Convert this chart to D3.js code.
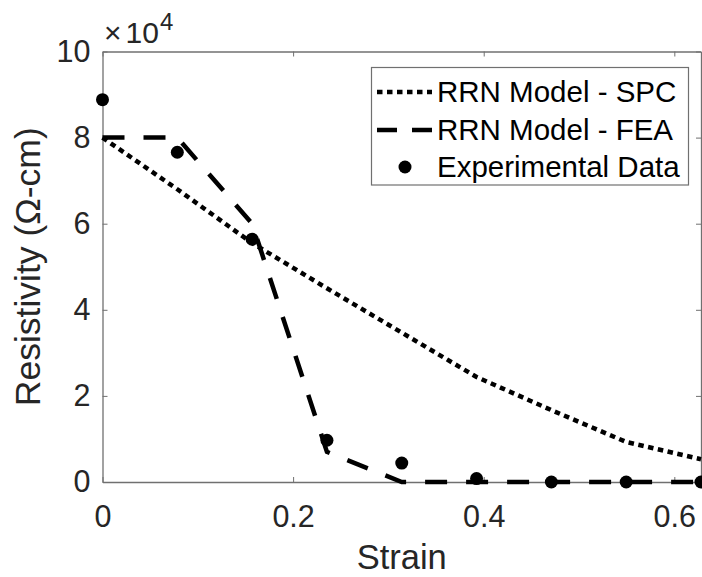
<!DOCTYPE html>
<html>
<head>
<meta charset="utf-8">
<script src="https://cdn.jsdelivr.net/npm/d3@7"></script>
<style>
  html, body { margin: 0; padding: 0; background: #fff; }
  svg { display: block; font-family: "Liberation Sans", Arial, Helvetica, sans-serif; }
</style>
</head>
<body>
<svg id="chart" width="702" height="577"></svg>
<script>
// ---- data (resistivity in units of 1e4 Ω-cm) ----
const strain = [0, 0.0785, 0.157, 0.2355, 0.314, 0.3925, 0.471, 0.5495, 0.628];
const spcModel = [8.0, 6.8, 5.55, 4.5, 3.47, 2.44, 1.67, 0.93, 0.53];
const feaModel = [8.0, 8.0, 6.0, 0.7, 0, 0, 0, 0, 0];
const experimental = [8.88, 7.66, 5.64, 0.97, 0.44, 0.08, 0, 0, 0];
const xTicks = [0, 0.2, 0.4, 0.6];
const yTicks = [0, 2, 4, 6, 8, 10];
const legendLabels = ["RRN Model - SPC", "RRN Model - FEA", "Experimental Data"];

(function () {
const svg = d3.select("#chart");
const mLeft = 102.5, mRight = 701, mTop = 51.5, mBottom = 482;
const x = d3.scaleLinear().domain([0, 0.628]).range([mLeft, mRight]);
const y = d3.scaleLinear().domain([0, 10]).range([mBottom, mTop]);
const axisColor = "#262626";

// axes (MATLAB-style box, ticks inward)
const gx = svg.append("g").attr("transform", `translate(0,${mBottom})`)
  .call(d3.axisBottom(x).tickValues(xTicks).tickSizeInner(-5).tickSizeOuter(0).tickPadding(23)
    .tickFormat(d => d === 0 ? "0" : d3.format(".1f")(d)));
const gxt = svg.append("g").attr("transform", `translate(0,${mTop})`)
  .call(d3.axisTop(x).tickValues(xTicks).tickSizeInner(-5).tickSizeOuter(0).tickFormat(""));
const gy = svg.append("g").attr("transform", `translate(${mLeft},0)`)
  .call(d3.axisLeft(y).tickValues(yTicks).tickSizeInner(-5).tickSizeOuter(0).tickPadding(12).tickFormat(d3.format("d")));
const gyr = svg.append("g").attr("transform", `translate(${mRight},0)`)
  .call(d3.axisRight(y).tickValues(yTicks).tickSizeInner(-5).tickSizeOuter(0).tickFormat(""));

[gx, gxt, gy, gyr].forEach(g => {
  g.select(".domain").attr("stroke", "#707070").attr("stroke-width", 1.3);
  g.selectAll(".tick line").attr("stroke", "#707070").attr("stroke-width", 1);
  g.selectAll(".tick text").attr("fill", axisColor).attr("font-size", 30.5)
    .attr("font-family", "'Liberation Sans', Arial, sans-serif");
});
gx.selectAll(".tick text").attr("dy", "0.71em");

// exponent label
const expo = svg.append("text").attr("x", 104).attr("y", 43).attr("fill", axisColor)
  .attr("font-size", 30);
expo.append("tspan").text("×");
expo.append("tspan").attr("dx", 4).text("10");
expo.append("tspan").attr("font-size", 24).attr("dx", 1).attr("dy", -13).text("4");

// axis labels
svg.append("text").attr("x", (mLeft + mRight) / 2).attr("y", 569).attr("text-anchor", "middle")
  .attr("fill", axisColor).attr("font-size", 34.5).text("Strain");
svg.append("text").attr("transform", `translate(40,${(mTop + mBottom) / 2}) rotate(-90)`)
  .attr("text-anchor", "middle").attr("fill", axisColor).attr("font-size", 35.5)
  .text("Resistivity (Ω-cm)");

// lines
const line = vals => d3.line().x((d, i) => x(strain[i])).y(d => y(d))(vals);
svg.append("path").attr("d", line(spcModel)).attr("fill", "none").attr("stroke", "#000")
  .attr("stroke-width", 4.5).attr("stroke-dasharray", "5.5,4.5");
svg.append("path").attr("d", line(feaModel)).attr("fill", "none").attr("stroke", "#000")
  .attr("stroke-width", 4.5).attr("stroke-dasharray", "22,19");
svg.append("g").selectAll("circle").data(experimental).join("circle")
  .attr("cx", (d, i) => x(strain[i])).attr("cy", d => y(d)).attr("r", 6.5).attr("fill", "#000");

// legend
const lg = svg.append("g");
lg.append("rect").attr("x", 371.5).attr("y", 67.5).attr("width", 317).attr("height", 117.5)
  .attr("fill", "#fff").attr("stroke", "#707070").attr("stroke-width", 1.2);
const rowsY = [92, 130, 167];
lg.append("line").attr("x1", 377).attr("x2", 432).attr("y1", rowsY[0]).attr("y2", rowsY[0])
  .attr("stroke", "#000").attr("stroke-width", 4.5).attr("stroke-dasharray", "5.5,4.5");
lg.append("line").attr("x1", 377).attr("x2", 432).attr("y1", rowsY[1]).attr("y2", rowsY[1])
  .attr("stroke", "#000").attr("stroke-width", 4.5).attr("stroke-dasharray", "20,15");
lg.append("circle").attr("cx", 405).attr("cy", rowsY[2]).attr("r", 6.5).attr("fill", "#000");
legendLabels.forEach((t, i) => {
  lg.append("text").attr("x", 437).attr("y", rowsY[i]).attr("dy", "0.35em")
    .attr("font-size", 29.5).attr("fill", "#000").text(t);
});
})();
</script>
</body>
</html>
